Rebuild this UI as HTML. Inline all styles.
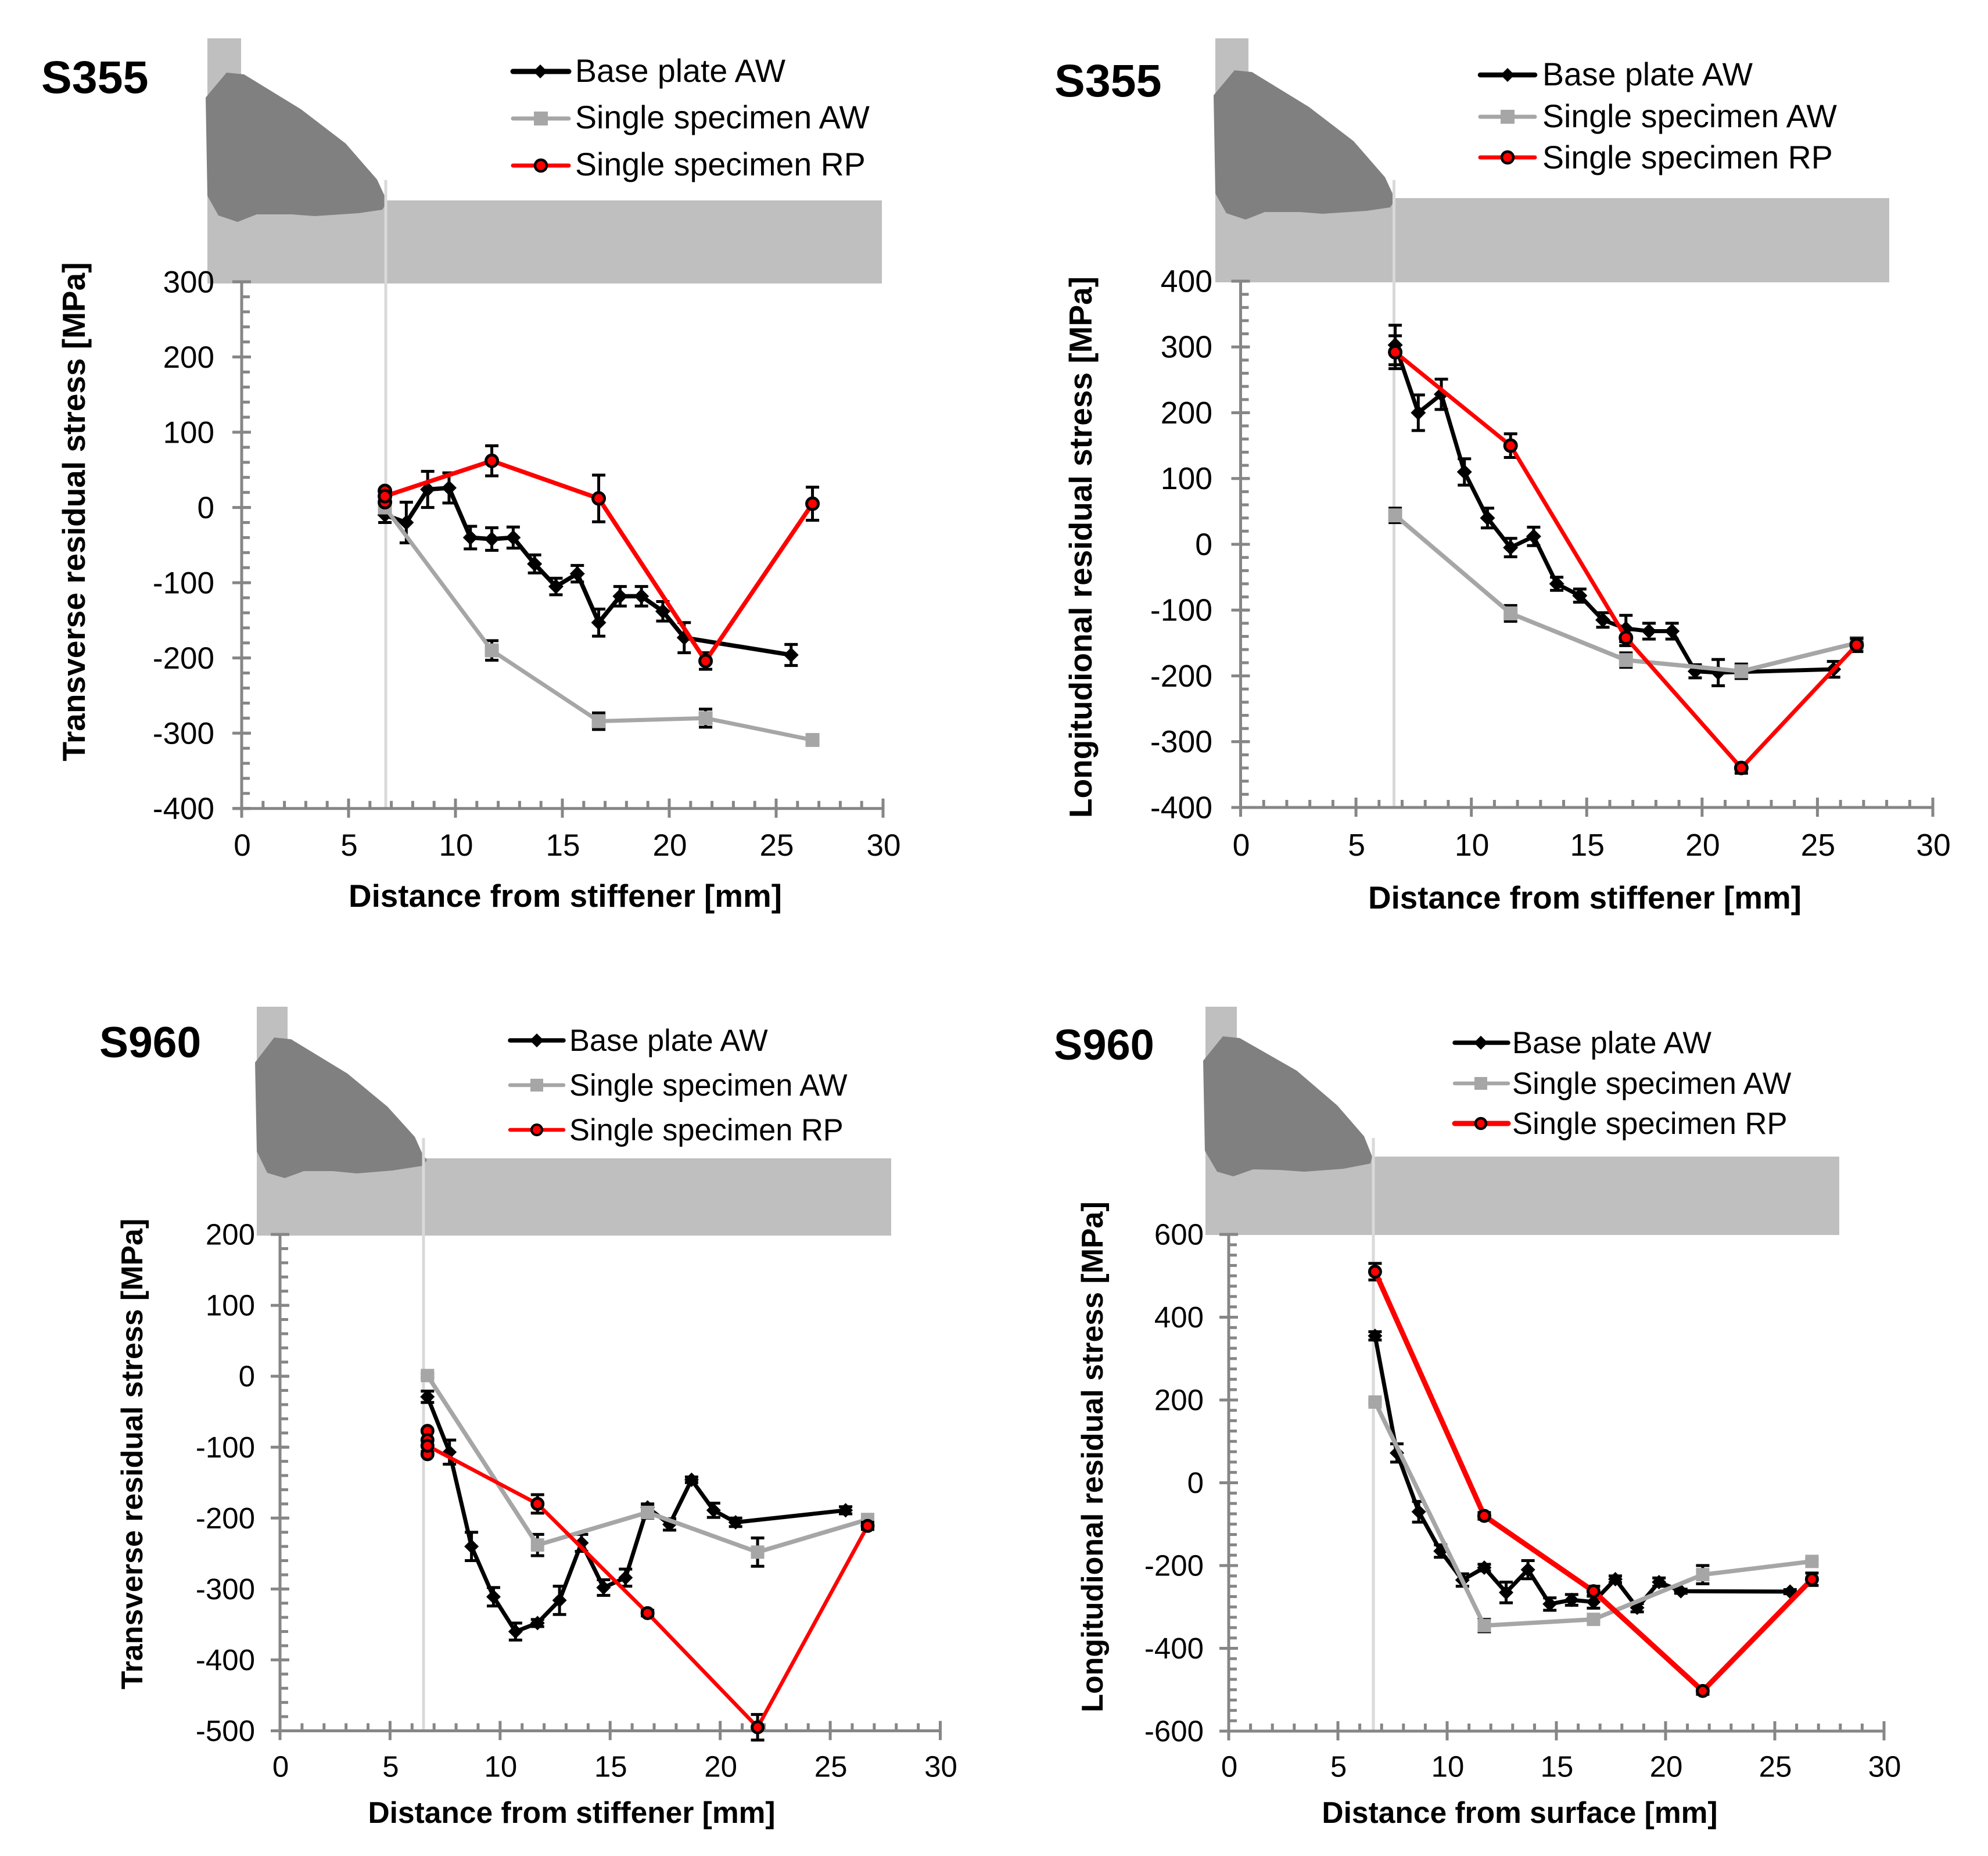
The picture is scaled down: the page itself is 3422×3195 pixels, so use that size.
<!DOCTYPE html>
<html lang="en">
<head>
<meta charset="utf-8">
<title>Residual stress charts for S355 and S960</title>
<style>
html,body{margin:0;padding:0;background:#fff;}
svg{display:block;}
text{font-family:"Liberation Sans",Arial,sans-serif;fill:#000;}
.b{font-weight:bold;}
</style>
</head>
<body>
<svg xmlns="http://www.w3.org/2000/svg" width="3422" height="3195" viewBox="0 0 3422 3195">
<rect width="3422" height="3195" fill="#fff"/>

<g id="panel-a">
  <rect x="357" y="66" width="58" height="300" fill="#bfbfbf"/>
  <rect x="357" y="345" width="1161" height="143" fill="#bfbfbf"/>
  <polygon fill="#808080" points="390,125 420,128 518,188 595,247 649,309 662,337 666,349 658,361 617,367 542,372 502,369 442,369 409,382 376,371 357,337 354,168"/>
  <rect x="661.5" y="310" width="5" height="1080" fill="#d9d9d9"/>
  <text class="b" x="71" y="160" font-size="79">S355</text>
  <text class="b" x="973" y="1561" font-size="54.8" text-anchor="middle">Distance from stiffener [mm]</text>
  <text class="b" transform="translate(146,881) rotate(-90)" font-size="55" text-anchor="middle">Transverse residual stress [MPa]</text>
  <g>
    <line x1="883" x2="979" y1="123" y2="123" stroke="#000" stroke-width="9" stroke-linecap="round"/>
    <polygon points="930,111 942,123 930,135 918,123" fill="#000"/>
    <text x="990" y="141" font-size="55.5">Base plate AW</text>
    <line x1="883" x2="979" y1="204" y2="204" stroke="#a6a6a6" stroke-width="7" stroke-linecap="round"/>
    <rect x="919" y="192" width="24" height="24" fill="#a6a6a6"/>
    <text x="990" y="221" font-size="55.5">Single specimen AW</text>
    <line x1="883" x2="979" y1="285" y2="285" stroke="#f00" stroke-width="7" stroke-linecap="round"/>
    <circle cx="931" cy="285" r="10" fill="#f00" stroke="#000" stroke-width="4.5"/>
    <text x="990" y="302" font-size="55.5">Single specimen RP</text>
  </g>
</g>

<g id="panel-b">
  <rect x="2092" y="66" width="57" height="300" fill="#bfbfbf"/>
  <rect x="2092" y="341" width="1160" height="145" fill="#bfbfbf"/>
  <polygon fill="#808080" transform="translate(1735,-4)" points="390,125 420,128 518,188 595,247 649,309 662,337 666,349 658,361 617,367 542,372 502,369 442,369 409,382 376,371 357,337 354,168"/>
  <rect x="2397" y="310" width="5" height="1080" fill="#d9d9d9"/>
  <text class="b" x="1815" y="166" font-size="79">S355</text>
  <text class="b" x="2728" y="1564" font-size="54.8" text-anchor="middle">Distance from stiffener [mm]</text>
  <text class="b" transform="translate(1879,942) rotate(-90)" font-size="55" text-anchor="middle">Longitudional residual stress [MPa]</text>
  <g>
    <line x1="2548" x2="2642" y1="129" y2="129" stroke="#000" stroke-width="8.5" stroke-linecap="round"/>
    <polygon points="2595,117 2607,129 2595,141 2583,129" fill="#000"/>
    <text x="2655" y="147" font-size="55.5">Base plate AW</text>
    <line x1="2548" x2="2642" y1="201" y2="201" stroke="#a6a6a6" stroke-width="7" stroke-linecap="round"/>
    <rect x="2583" y="189" width="24" height="24" fill="#a6a6a6"/>
    <text x="2655" y="219" font-size="55.5">Single specimen AW</text>
    <line x1="2548" x2="2642" y1="271" y2="271" stroke="#f00" stroke-width="7" stroke-linecap="round"/>
    <circle cx="2595" cy="271" r="10" fill="#f00" stroke="#000" stroke-width="4.5"/>
    <text x="2655" y="290" font-size="55.5">Single specimen RP</text>
  </g>
</g>

<g id="panel-c">
  <rect x="442" y="1733" width="53" height="270" fill="#bfbfbf"/>
  <rect x="442" y="1994" width="1092" height="133" fill="#bfbfbf"/>
  <polygon fill="#808080" points="439,1829 472,1786 501,1789 598,1848 667,1905 714,1957 727,1986 735,1997 727,2007 675,2015 614,2020 573,2016 523,2016 490,2028 460,2019 442,1982"/>
  <rect x="726.5" y="1959" width="5" height="1020" fill="#d9d9d9"/>
  <text class="b" x="171" y="1820" font-size="75">S960</text>
  <text class="b" x="984" y="3138" font-size="51.5" text-anchor="middle">Distance from stiffener [mm]</text>
  <text class="b" transform="translate(245,2503) rotate(-90)" font-size="51.9" text-anchor="middle">Transverse residual stress [MPa]</text>
  <g>
    <line x1="878" x2="970" y1="1791" y2="1791" stroke="#000" stroke-width="7.5" stroke-linecap="round"/>
    <polygon points="924,1779 936,1791 924,1803 912,1791" fill="#000"/>
    <text x="980" y="1809" font-size="52.4">Base plate AW</text>
    <line x1="878" x2="970" y1="1868" y2="1868" stroke="#a6a6a6" stroke-width="6.5" stroke-linecap="round"/>
    <rect x="913" y="1857" width="22" height="22" fill="#a6a6a6"/>
    <text x="980" y="1886" font-size="52.4">Single specimen AW</text>
    <line x1="878" x2="970" y1="1945" y2="1945" stroke="#f00" stroke-width="6.5" stroke-linecap="round"/>
    <circle cx="924" cy="1945" r="9" fill="#f00" stroke="#000" stroke-width="4"/>
    <text x="980" y="1963" font-size="52.4">Single specimen RP</text>
  </g>
</g>

<g id="panel-d">
  <rect x="2075" y="1733" width="54" height="270" fill="#bfbfbf"/>
  <rect x="2075" y="1991" width="1091" height="135" fill="#bfbfbf"/>
  <polygon fill="#808080" points="2071,1826 2105,1784 2134,1787 2232,1843 2302,1903 2348,1956 2362,1991 2359,2003 2312,2012 2245,2017 2203,2014 2157,2013 2123,2025 2095,2017 2074,1981"/>
  <rect x="2361.5" y="1959" width="5" height="1020" fill="#d9d9d9"/>
  <text class="b" x="1814" y="1824" font-size="74">S960</text>
  <text class="b" x="2616" y="3138" font-size="51.5" text-anchor="middle">Distance from surface [mm]</text>
  <text class="b" transform="translate(1898,2508) rotate(-90)" font-size="51.9" text-anchor="middle">Longitudional residual stress [MPa]</text>
  <g>
    <line x1="2504" x2="2596" y1="1795" y2="1795" stroke="#000" stroke-width="7.5" stroke-linecap="round"/>
    <polygon points="2549,1783 2561,1795 2549,1807 2537,1795" fill="#000"/>
    <text x="2603" y="1813" font-size="52.6">Base plate AW</text>
    <line x1="2504" x2="2596" y1="1865" y2="1865" stroke="#a6a6a6" stroke-width="6.5" stroke-linecap="round"/>
    <rect x="2538" y="1854" width="22" height="22" fill="#a6a6a6"/>
    <text x="2603" y="1883" font-size="52.6">Single specimen AW</text>
    <line x1="2504" x2="2596" y1="1934" y2="1934" stroke="#f00" stroke-width="9" stroke-linecap="round"/>
    <circle cx="2549" cy="1934" r="9" fill="#f00" stroke="#000" stroke-width="4.5"/>
    <text x="2603" y="1952" font-size="52.6">Single specimen RP</text>
  </g>
</g>
</svg>

<script>
// Categories: measurement distances in mm
const baseDistances = [6.7, 7.7, 8.7, 9.7, 10.7, 11.7, 12.7, 13.7, 14.7, 15.7, 16.7, 17.7, 18.7, 19.7, 20.7, 25.7];
const singleDistances = [6.7, 11.7, 16.7, 21.7, 26.7];
const xTickLabels = [0, 5, 10, 15, 20, 25, 30];

// Tick labels
const yTicksA = [300, 200, 100, 0, -100, -200, -300, -400];
const yTicksB = [400, 300, 200, 100, 0, -100, -200, -300, -400];
const yTicksC = [200, 100, 0, -100, -200, -300, -400, -500];
const yTicksD = [600, 400, 200, 0, -200, -400, -600];

// S355 transverse
const baseA = [-10, -20, 24, 26, -40, -42, -40, -75, -105, -88, -153, -118, -118, -138, -173, -196];
const baseErrA = [10, 27, 24, 20, 15, 15, 14, 12, 11, 11, 18, 13, 13, 13, 20, 14];
const awA = [0, -190, -284, -280, -309];
const awErrA = [4, 13, 11, 12, 5];
const rpA = [15, 62, 12, -204, 5];
const rpErrA = [8, 20, 31, 11, 22];
const rpExtraA = [22, 7];

// S355 longitudinal
const baseB = [303, 200, 228, 110, 40, -5, 12, -60, -78, -115, -128, -132, -132, -193, -195, -190];
const baseErrB = [30, 27, 23, 20, 15, 14, 14, 10, 10, 11, 20, 12, 12, 10, 20, 12];
const awB = [44, -105, -176, -193, -150];
const awErrB = [11, 12, 11, 11, 8];
const rpB = [292, 150, -142, -340, -153];
const rpErrB = [25, 18, 12, 8, 10];
const rpExtraB = [];

// S960 transverse
const baseC = [-29, -107, -240, -311, -360, -348, -316, -235, -298, -284, -185, -209, -146, -189, -206, -189];
const baseErrC = [8, 17, 20, 13, 12, 5, 20, 12, 11, 12, 5, 8, 4, 10, 6, 5];
const awC = [1, -238, -192, -248, -202];
const awErrC = [3, 15, 8, 20, 5];
const rpC = [-98, -180, -334, -495, -211];
const rpErrC = [8, 13, 4, 18, 5];
const rpExtraC = [-77, -90, -110];

// S960 longitudinal
const baseD = [355, 72, -70, -165, -235, -205, -265, -210, -293, -283, -288, -233, -302, -240, -262, -263];
const baseErrD = [10, 22, 25, 15, 15, 8, 25, 22, 15, 13, 15, 8, 10, 10, 5, 5];
const awD = [195, -345, -330, -222, -190];
const awErrD = [5, 15, 5, 22, 5];
const rpD = [510, -80, -262, -503, -233];
const rpErrD = [20, 8, 12, 8, 15];
const rpExtraD = [];

const SVGNS = 'http://www.w3.org/2000/svg';
function mk(parent, tag, attrs) {
  const el = document.createElementNS(SVGNS, tag);
  for (const k in attrs) el.setAttribute(k, attrs[k]);
  parent.appendChild(el);
  return el;
}

function drawAxes(layer, cfg, sx, sy, yTicks) {
  const axisColor = '#868686';
  const axisGroup = mk(layer, 'g', {stroke: axisColor, 'stroke-width': 5});
  
  
  const yAxisLine = mk(axisGroup, 'line', {x1: sx(0), x2: sx(0), y1: sy(cfg.yMax), y2: sy(cfg.yMin)});
  
  
  const xAxisLine = mk(axisGroup, 'line', {x1: sx(0) - 16, x2: sx(cfg.xMax), y1: sy(cfg.yMin), y2: sy(cfg.yMin)});
  
  

  for (let v = 0; v <= cfg.xMax; v += 1) {
    const isMajor = v % 5 === 0;
    const tick = mk(axisGroup, 'line', {x1: sx(v), x2: sx(v), y1: sy(cfg.yMin) - (isMajor ? 17 : 13), y2: sy(cfg.yMin) + (isMajor ? 16 : 0)});
    
    
  }
  for (let v = cfg.yMin; v <= cfg.yMax; v += cfg.yMinor) {
    const tick = mk(axisGroup, 'line', {x1: sx(0), x2: sx(0) + 14, y1: sy(v), y2: sy(v)});
    
    
  }
  yTicks.forEach(function (v) {
    const tick = mk(axisGroup, 'line', {x1: sx(0) - 16, x2: sx(0) + 16, y1: sy(v), y2: sy(v)});
    
    
    const label = mk(layer, 'text', {x: cfg.yLabelX, y: sy(v) + cfg.tickFont * 0.345, 'font-size': cfg.tickFont, 'text-anchor': 'end'});
    label.textContent = v;
    
    
  });
  xTickLabels.forEach(function (v) {
    const label = mk(layer, 'text', {x: sx(v) + 1, y: cfg.xLabelY + cfg.tickFont * 0.358, 'font-size': cfg.tickFont, 'text-anchor': 'middle'});
    label.textContent = v;
    
    
  });
}

function drawErrorBars(layer, xs, ys, errs, sx, sy, cap, width) {
  xs.forEach(function (x, i) {
    const px = sx(x);
    const top = sy(ys[i] + errs[i]);
    const bottom = sy(ys[i] - errs[i]);
    const g = mk(layer, 'g', {stroke: '#000', 'stroke-width': width});
    
    
    mk(g, 'line', {x1: px, x2: px, y1: top, y2: bottom});
    mk(g, 'line', {x1: px - cap, x2: px + cap, y1: top, y2: top});
    mk(g, 'line', {x1: px - cap, x2: px + cap, y1: bottom, y2: bottom});
  });
}

function drawLine(layer, xs, ys, sx, sy, color, width) {
  const pts = xs.map(function (x, i) { return sx(x) + ',' + sy(ys[i]); }).join(' ');
  const line = mk(layer, 'polyline', {points: pts, fill: 'none', stroke: color, 'stroke-width': width, 'stroke-linejoin': 'round'});
  
  
}

function drawPanel(cfg, baseVals, baseErrs, awVals, awErrs, rpVals, rpErrs, rpExtra, yTicks) {
  const layer = document.getElementById(cfg.id);
  const sx = function (v) { return cfg.x0 + (v / cfg.xMax) * (cfg.x1 - cfg.x0); };
  const sy = function (v) { return cfg.yTop + ((cfg.yMax - v) / (cfg.yMax - cfg.yMin)) * (cfg.yBottom - cfg.yTop); };
  drawAxes(layer, cfg, sx, sy, yTicks);

  const baseGroup = mk(layer, 'g', {});
  
  
  drawErrorBars(baseGroup, baseDistances, baseVals, baseErrs, sx, sy, cfg.cap, 5);
  drawLine(baseGroup, baseDistances, baseVals, sx, sy, '#000', cfg.wBase);
  baseDistances.forEach(function (x, i) {
    const px = sx(x);
    const py = sy(baseVals[i]);
    const d = cfg.mark;
    const marker = mk(baseGroup, 'polygon', {points: [px, py - d, px + d, py, px, py + d, px - d, py].join(' '), fill: '#000'});
    
    
  });

  const awGroup = mk(layer, 'g', {});
  
  
  drawErrorBars(awGroup, singleDistances, awVals, awErrs, sx, sy, cfg.cap, 5);
  drawLine(awGroup, singleDistances, awVals, sx, sy, '#a6a6a6', cfg.wAw);
  singleDistances.forEach(function (x, i) {
    const s = cfg.mark - 1;
    const marker = mk(awGroup, 'rect', {x: sx(x) - s, y: sy(awVals[i]) - s, width: 2 * s, height: 2 * s, fill: '#a6a6a6'});
    
    
  });

  const rpGroup = mk(layer, 'g', {});
  
  
  drawErrorBars(rpGroup, singleDistances, rpVals, rpErrs, sx, sy, cfg.cap, 5);
  drawLine(rpGroup, singleDistances, rpVals, sx, sy, '#f00', cfg.wRp);
  rpExtra.forEach(function (v) {
    const marker = mk(rpGroup, 'circle', {cx: sx(6.7), cy: sy(v), r: cfg.dot, fill: '#f00', stroke: '#000', 'stroke-width': 5});
    
    
  });
  singleDistances.forEach(function (x, i) {
    const marker = mk(rpGroup, 'circle', {cx: sx(x), cy: sy(rpVals[i]), r: cfg.dot, fill: '#f00', stroke: '#000', 'stroke-width': 5});
    
    
  });
}

drawPanel({id: 'panel-a', x0: 416, x1: 1520, xMax: 30, yTop: 485, yBottom: 1391.7, yMax: 300, yMin: -400, yMinor: 20, yLabelX: 369, xLabelY: 1454, tickFont: 53, cap: 11.5, mark: 13, dot: 10, wBase: 7.5, wAw: 7, wRp: 7.5},
  baseA, baseErrA, awA, awErrA, rpA, rpErrA, rpExtraA, yTicksA);
drawPanel({id: 'panel-b', x0: 2135.5, x1: 3327, xMax: 30, yTop: 484, yBottom: 1390, yMax: 400, yMin: -400, yMinor: 20, yLabelX: 2087, xLabelY: 1454, tickFont: 53.5, cap: 11.5, mark: 13, dot: 10, wBase: 7, wAw: 7.5, wRp: 7},
  baseB, baseErrB, awB, awErrB, rpB, rpErrB, rpExtraB, yTicksB);
drawPanel({id: 'panel-c', x0: 482, x1: 1618.5, xMax: 30, yTop: 2125, yBottom: 2979.5, yMax: 200, yMin: -500, yMinor: 20, yLabelX: 439, xLabelY: 3040, tickFont: 51, cap: 11.5, mark: 12.5, dot: 9.5, wBase: 7, wAw: 7.5, wRp: 6.5},
  baseC, baseErrC, awC, awErrC, rpC, rpErrC, rpExtraC, yTicksC);
drawPanel({id: 'panel-d', x0: 2115, x1: 3243, xMax: 30, yTop: 2125, yBottom: 2980, yMax: 600, yMin: -600, yMinor: 25, yLabelX: 2072, xLabelY: 3040, tickFont: 51, cap: 11.5, mark: 12.5, dot: 9.5, wBase: 7, wAw: 7.5, wRp: 9},
  baseD, baseErrD, awD, awErrD, rpD, rpErrD, rpExtraD, yTicksD);
</script>
</body>
</html>
